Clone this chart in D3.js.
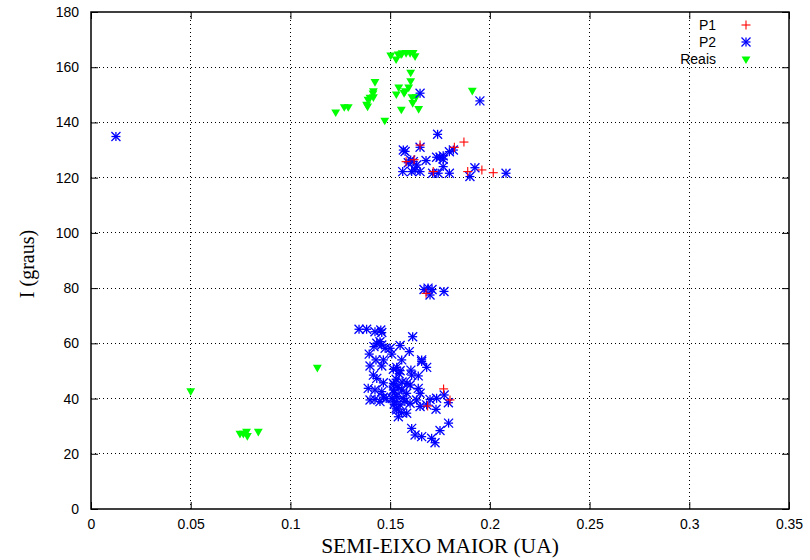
<!DOCTYPE html>
<html><head><meta charset="utf-8">
<script src="https://cdn.jsdelivr.net/npm/d3@7"></script>
<style>body{margin:0;background:#fff}svg{display:block}</style>
</head><body>
<svg id="c" width="810" height="560"></svg>
<script>
const xTicks = [0,0.05,0.1,0.15,0.2,0.25,0.3,0.35];
const xTickLabels = ["0","0.05","0.1","0.15","0.2","0.25","0.3","0.35"];
const yTicks = [0,20,40,60,80,100,120,140,160,180];
const seriesNames = ["P1","P2","Reais"];

const p1 = [[0.165,131.8],[0.1822,131],[0.187,132.9],[0.158,125.8],[0.1716,122.2],[0.1889,122.2],[0.196,122.8],[0.2017,121.8],[0.162,126.5],
  [0.1768,43.5],[0.1688,37.3],[0.18,39.5],[0.168,78.1]];

const p2 = [[0.0125,134.9],[0.165,150.6],[0.195,147.8],
  [0.1738,135.7],[0.1566,130],[0.165,131],[0.1817,130],[0.1797,129.4],[0.1766,127.9],[0.175,127.4],[0.1733,127.4],[0.1766,126.7],[0.168,126.2],[0.1603,126.4],[0.1616,125.8],[0.1591,125.4],[0.1633,124.6],[0.1563,122.2],[0.1608,122.2],[0.1625,122.8],[0.165,122.2],[0.1713,121.6],[0.1741,121.6],[0.1766,124],[0.1797,121.6],[0.1925,123.6],[0.19,120.4],[0.2081,121.6],[0.1575,129.5],
  [0.167,79.5],[0.169,80],[0.171,79.5],[0.170,77.5],[0.177,78.8],
  [0.1344,65.1],[0.1382,65.1],[0.1424,64.2],[0.1453,64.8],[0.1458,63.9],[0.1613,62.4],
  [0.1433,60],[0.1449,60.6],[0.1458,59.4],[0.1419,58.8],[0.155,59.2],[0.15,58.2],[0.1475,58.2],[0.1596,57],[0.1395,56.1],[0.1508,56.1],[0.1429,54],[0.1558,54],[0.1658,54],[0.1466,54],[0.1399,51.8],[0.1533,51.3],[0.1683,51.3],
  [0.1458,51.8],[0.1516,50.6],[0.155,50.1],[0.1604,50.3],[0.1658,53.4],[0.1608,48.5],[0.1641,48.2],[0.1416,48.5],[0.1433,47.3],[0.1466,45.7],[0.139,43.7],[0.1424,43.1],[0.1458,42.5],[0.1516,45.5],[0.1516,43.1],[0.1533,40.7],[0.1558,43.1],[0.1583,41.9],[0.16,44.9],[0.1641,43.7],[0.165,41.9],
  [0.1399,39.5],[0.1424,39.7],[0.1449,38.9],[0.1466,40.5],[0.1524,38.9],[0.155,37.7],[0.1574,38.9],[0.16,38.3],[0.1633,39.5],[0.165,37.1],[0.1683,37.7],[0.173,36.1],[0.17,39.7],[0.1733,40.1],[0.1771,41.3],[0.1792,38.5],
  [0.1533,35.9],[0.1558,34.9],[0.1541,33.4],[0.1583,34.7],[0.1608,29.2],[0.1625,26.8],[0.1658,26.2],[0.1708,25.6],[0.1725,24],[0.175,28.4],[0.1793,31.1],
  [0.152,45],[0.153,47],[0.152,42],[0.154,44],[0.151,40],[0.153,36.5],[0.152,38],[0.156,46],[0.148,40],[0.1545,49],[0.1585,45.5],[0.1565,40]];

const reais = [[0.1503,164.4],[0.153,163],[0.154,164.8],[0.1555,164.8],[0.156,165.2],[0.158,165.3],[0.160,165.3],[0.1615,165.3],[0.1625,164.1],
  [0.1603,158.2],[0.1603,155.1],[0.1424,154.8],[0.1543,152.8],[0.1593,152.8],[0.1416,151.5],[0.1576,151.5],[0.1531,150.3],[0.157,150.8],[0.1414,150.6],[0.1399,149.1],[0.1416,149.3],[0.1389,148.4],[0.161,149.3],[0.163,149.3],[0.1382,146.6],[0.1387,145.9],[0.1613,147.2],[0.127,145.7],[0.129,145.7],[0.1227,143.8],[0.1556,144.8],[0.1643,145],[0.1473,140.8],[0.1912,151.6],
  [0.05,42.8],[0.1135,51.3],[0.0747,27.4],[0.0764,27.4],[0.078,28.1],[0.0784,26.6],[0.0839,28.1]];

const svg = d3.select("#c");
const L=91,R=789,T=12,B=509;
const x = d3.scaleLinear().domain([0,0.35]).range([L,R]);
const y = d3.scaleLinear().domain([0,180]).range([B,T]);

// grid
const g = svg.append("g");
g.selectAll("line.gx").data(xTicks.slice(1,-1)).join("line")
  .attr("x1",d=>x(d)).attr("x2",d=>x(d)).attr("y1",T).attr("y2",B)
  .attr("stroke","#000").attr("stroke-width",1).attr("stroke-dasharray","1,3").attr("shape-rendering","crispEdges");
g.selectAll("line.gy").data(yTicks.slice(1,-1)).join("line")
  .attr("y1",d=>y(d)).attr("y2",d=>y(d)).attr("x1",L).attr("x2",R)
  .attr("stroke","#000").attr("stroke-width",1).attr("stroke-dasharray","1,3").attr("shape-rendering","crispEdges");

// axes
const fontSans = "'Liberation Sans', Arial, sans-serif";
const ax = svg.append("g").attr("transform",`translate(0,${B})`)
  .call(d3.axisBottom(x).tickValues(xTicks).tickFormat((d,i)=>xTickLabels[i]).tickSize(-7).tickPadding(10));
const ay = svg.append("g").attr("transform",`translate(${L},0)`)
  .call(d3.axisLeft(y).tickValues(yTicks).tickSize(-7).tickPadding(12));
const axT = svg.append("g").attr("transform",`translate(0,${T})`)
  .call(d3.axisTop(x).tickValues(xTicks).tickFormat("").tickSize(-7));
const ayR = svg.append("g").attr("transform",`translate(${R},0)`)
  .call(d3.axisRight(y).tickValues(yTicks).tickFormat("").tickSize(-7));
[ax,ay,axT,ayR].forEach(a=>{
  a.select(".domain").remove();
  a.selectAll("line").attr("stroke","#000").attr("stroke-width",1);
  a.selectAll("text").attr("font-family",fontSans).attr("font-size",14).attr("fill","#000");
});
svg.append("rect").attr("x",L).attr("y",T).attr("width",R-L).attr("height",B-T)
  .attr("fill","none").attr("stroke","#000").attr("stroke-width",1.5);

// markers
function plus(sel,color,s){
  sel.each(function(d){
    const gg=d3.select(this);
    gg.append("line").attr("x1",-s).attr("x2",s).attr("y1",0).attr("y2",0);
    gg.append("line").attr("y1",-s).attr("y2",s).attr("x1",0).attr("x2",0);
  }).attr("stroke",color).attr("stroke-width",1.1);
}
function star(sel,color,s){
  sel.each(function(d){
    const gg=d3.select(this);
    gg.append("line").attr("x1",-s).attr("x2",s).attr("y1",0).attr("y2",0);
    gg.append("line").attr("y1",-s).attr("y2",s).attr("x1",0).attr("x2",0);
    gg.append("line").attr("x1",-s).attr("x2",s).attr("y1",-s).attr("y2",s);
    gg.append("line").attr("x1",-s).attr("x2",s).attr("y1",s).attr("y2",-s);
  }).attr("stroke",color).attr("stroke-width",1.3);
}
const tri = d3.symbol().type(d3.symbolTriangle).size(34);

svg.append("g").selectAll("g").data(reais).join("path")
  .attr("d",tri).attr("transform",d=>`translate(${x(d[0])},${y(d[1])}) rotate(180)`).attr("fill","#00ff00");
svg.append("g").selectAll("g").data(p2).join("g")
  .attr("transform",d=>`translate(${x(d[0])},${y(d[1])})`).call(star,"#0000ff",4.5);
svg.append("g").selectAll("g").data(p1).join("g")
  .attr("transform",d=>`translate(${x(d[0])},${y(d[1])})`).call(plus,"#ff0000",4.5);

// legend
const leg = svg.append("g");
const ly = [25,42,59];
leg.selectAll("text").data(seriesNames).join("text")
  .attr("x",716).attr("y",(d,i)=>ly[i]+5).attr("text-anchor","end")
  .attr("font-family",fontSans).attr("font-size",14).text(d=>d);
leg.append("g").attr("transform",`translate(746,${ly[0]})`).datum(0).call(plus,"#ff0000",4.5);
leg.append("g").attr("transform",`translate(746,${ly[1]})`).datum(0).call(star,"#0000ff",4.5);
leg.append("path").attr("d",tri).attr("transform",`translate(746,${ly[2]}) rotate(180)`).attr("fill","#00ff00");

// titles
const fontSerif = "'Liberation Serif', 'Times New Roman', serif";
svg.append("text").attr("x",440).attr("y",553).attr("text-anchor","middle")
  .attr("font-family",fontSerif).attr("font-size",21.5).text("SEMI-EIXO MAIOR (UA)");
svg.append("text").attr("transform","translate(34,264) rotate(-90)").attr("text-anchor","middle")
  .attr("font-family",fontSerif).attr("font-size",20).text("I (graus)");
</script>
</body></html>
